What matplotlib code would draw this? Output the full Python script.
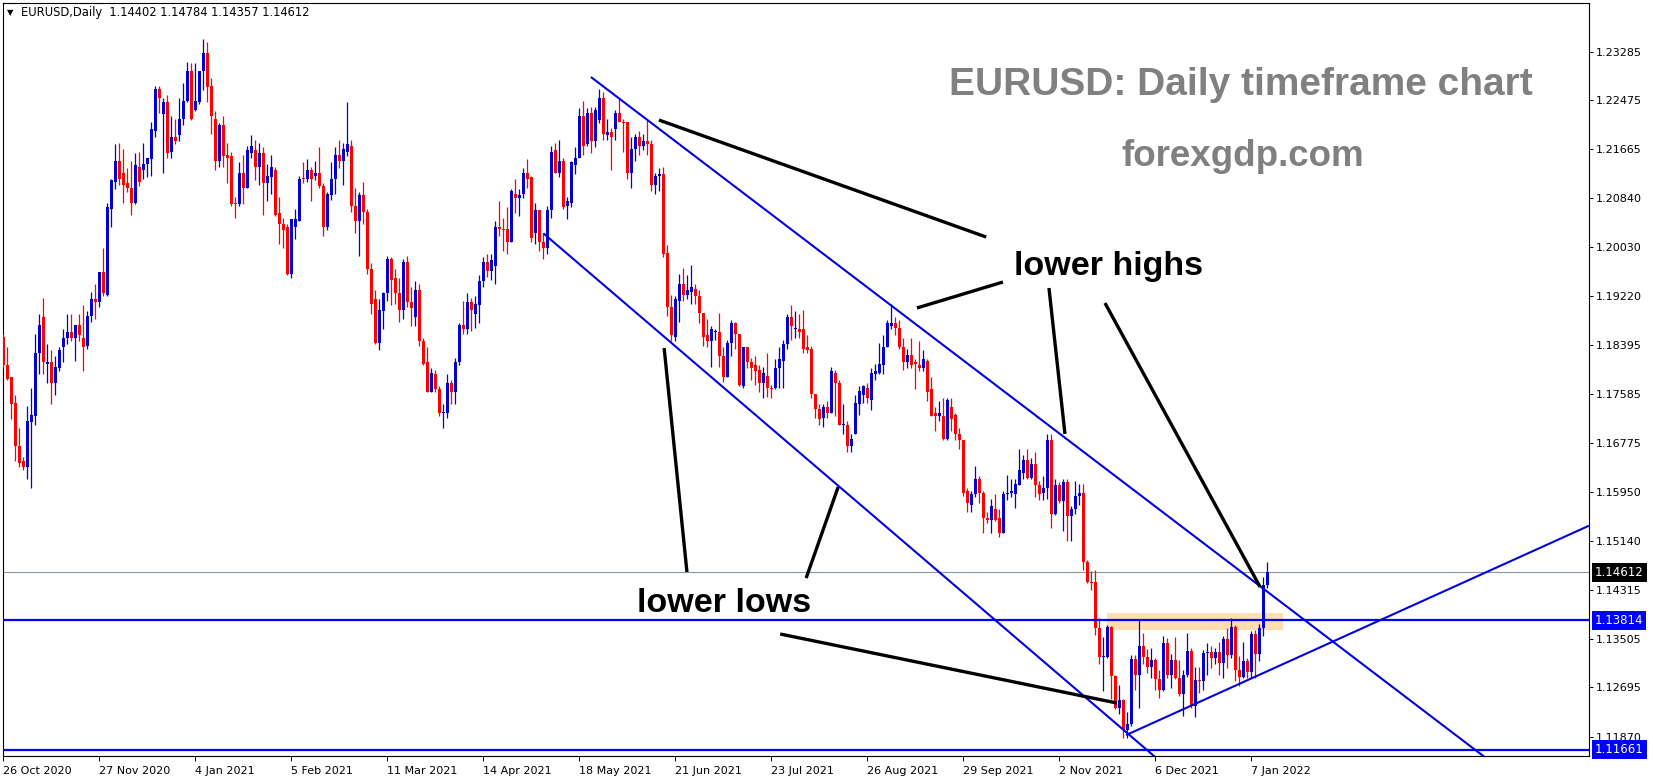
import matplotlib
matplotlib.use('Agg')
import matplotlib.pyplot as plt
import numpy as np
from matplotlib.patches import Rectangle

# ---------------- data (daily EURUSD candles, left to right) ----------------
opens = [
1.1854,1.1807,1.1786,1.1744,1.1672,1.1647,1.1637,1.1712,1.1722,1.1826,
1.1887,1.1809,1.1812,1.1776,1.1802,1.1836,1.1851,1.1861,1.1852,1.1874,
1.1852,1.1839,1.1889,1.1916,1.1911,1.1961,1.1924,1.2067,1.2112,1.2146,
1.2126,1.2109,1.2102,1.2077,1.2136,1.2132,1.2142,1.2149,1.2196,1.2267,
1.2224,1.2244,1.2161,1.2186,1.2189,1.2216,1.2246,1.2296,1.2231,1.2244,
1.2296,1.2326,1.2271,1.2216,1.2147,1.2206,1.2156,1.2154,1.2077,1.2074,
1.2127,1.2102,1.2159,1.2164,1.2136,1.2159,1.2109,1.2119,1.2131,1.2059,
1.2042,1.2036,1.1959,1.2037,1.2046,1.2117,1.2116,1.2131,1.2121,1.2127,
1.2104,1.2036,1.2089,1.2116,1.2156,1.2147,1.2162,1.2172,1.2071,1.2047,
1.2089,1.2062,1.1967,1.1917,1.1844,1.1897,1.1926,1.1984,1.1952,1.1927,
1.1899,1.1979,1.1912,1.1886,1.1932,1.1847,1.1812,1.1762,1.1792,1.1766,
1.1727,1.1727,1.1777,1.1761,1.1811,1.1874,1.1866,1.1912,1.1892,1.1907,
1.1946,1.1979,1.1964,1.1972,1.2037,1.2034,1.2034,1.2012,1.2092,1.2084,
1.2091,1.2126,1.2119,1.2026,1.2064,1.2012,1.2002,1.2064,1.2164,1.2126,
1.2147,1.2071,1.2077,1.2139,1.2151,1.2222,1.2174,1.2227,1.2179,1.2214,
1.2251,1.2189,1.2194,1.2199,1.2226,1.2212,1.2211,1.2126,1.2166,1.2186,
1.2171,1.2179,1.2174,1.2107,1.2121,1.2124,1.1994,1.1904,1.1854,1.1914,
1.1941,1.1924,1.1929,1.1934,1.1922,1.1894,1.1856,1.1847,1.1861,1.1861,
1.1821,1.1787,1.1844,1.1876,1.1859,1.1772,1.1836,1.1811,1.1807,1.1799,
1.1777,1.1789,1.1769,1.1769,1.1801,1.1814,1.1841,1.1886,1.1866,1.1866,
1.1866,1.1836,1.1834,1.1759,1.1734,1.1719,1.1736,1.1727,1.1794,1.1776,
1.1707,1.1707,1.1672,1.1692,1.1742,1.1756,1.1769,1.1749,1.1792,1.1794,
1.1806,1.1836,1.1871,1.1877,1.1869,1.1837,1.1812,1.1824,1.1812,1.1807,
1.1801,1.1814,1.1766,1.1726,1.1722,1.1722,1.1684,1.1737,1.1724,1.1692,
1.1681,1.1596,1.1574,1.1592,1.1617,1.1594,1.1552,1.1549,1.1567,1.1551,
1.1526,1.1591,1.1594,1.1592,1.1607,1.1627,1.1649,1.1619,1.1642,1.1607,
1.1594,1.1602,1.1682,1.1558,1.1607,1.1580,1.1611,1.1555,1.1567,1.1588,
1.1593,1.1479,1.1445,1.1445,1.1368,1.1320,1.1320,1.1370,1.1288,1.1236,
1.1249,1.1198,1.1208,1.1317,1.1291,1.1338,1.1320,1.1303,1.1315,1.1284,
1.1265,1.1343,1.1290,1.1316,1.1285,1.1259,1.1290,1.1330,1.1239,1.1282,
1.1280,1.1327,1.1328,1.1319,1.1328,1.1310,1.1350,1.1324,1.1370,1.1299,
1.1287,1.1313,1.1296,1.1359,1.1325,1.1368,1.14402]

highs = [
1.1859,1.1837,1.1787,1.1757,1.1702,1.1654,1.1739,1.1769,1.1859,1.1891,
1.1919,1.1842,1.1832,1.1822,1.1836,1.1867,1.1892,1.1891,1.1874,1.1891,
1.1906,1.1896,1.1929,1.1941,1.1962,1.2002,1.2076,1.2117,1.2174,1.2177,
1.2166,1.2134,1.2147,1.2159,1.2162,1.2176,1.2152,1.2212,1.2272,1.2272,
1.2252,1.2257,1.2221,1.2216,1.2251,1.2276,1.2311,1.2309,1.2309,1.2296,
1.2349,1.2344,1.2284,1.2229,1.2209,1.2222,1.2177,1.2162,1.2086,1.2144,
1.2157,1.2172,1.2189,1.2182,1.2176,1.2169,1.2142,1.2156,1.2136,1.2087,
1.2051,1.2042,1.2049,1.2066,1.2122,1.2144,1.2149,1.2136,1.2146,1.2169,
1.2109,1.2094,1.2144,1.2169,1.2181,1.2176,1.2244,1.2182,1.2101,1.2094,
1.2112,1.2066,1.1976,1.1931,1.1916,1.1929,1.1989,1.1987,1.1967,1.1951,
1.1984,1.1989,1.1936,1.1946,1.1941,1.1851,1.1837,1.1801,1.1799,1.1772,
1.1741,1.1791,1.1781,1.1819,1.1877,1.1914,1.1927,1.1919,1.1921,1.1956,
1.1987,1.1992,1.1992,1.2047,1.2079,1.2051,1.2069,1.2099,1.2117,1.2099,
1.2134,1.2149,1.2121,1.2076,1.2064,1.2026,1.2071,1.2171,1.2177,1.2181,
1.2152,1.2086,1.2147,1.2169,1.2234,1.2246,1.2234,1.2237,1.2236,1.2266,
1.2262,1.2216,1.2202,1.2231,1.2251,1.2216,1.2211,1.2186,1.2192,1.2197,
1.2191,1.2217,1.2181,1.2127,1.2134,1.2137,1.2006,1.1924,1.1922,1.1959,
1.1969,1.1956,1.1974,1.1942,1.1932,1.1894,1.1884,1.1872,1.1867,1.1894,
1.1836,1.1849,1.1881,1.1879,1.1859,1.1837,1.1836,1.1819,1.1822,1.1806,
1.1804,1.1827,1.1774,1.1817,1.1837,1.1849,1.1891,1.1907,1.1897,1.1892,
1.1899,1.1856,1.1839,1.1759,1.1742,1.1742,1.1747,1.1804,1.1799,1.1782,
1.1741,1.1714,1.1691,1.1756,1.1771,1.1774,1.1776,1.1802,1.1809,1.1844,
1.1856,1.1882,1.1909,1.1886,1.1882,1.1851,1.1834,1.1851,1.1816,1.1846,
1.1831,1.1816,1.1786,1.1736,1.1747,1.1752,1.1751,1.1752,1.1726,1.1702,
1.1681,1.1601,1.1596,1.1639,1.1621,1.1596,1.1562,1.1584,1.1592,1.1567,
1.1596,1.1624,1.1617,1.1616,1.1667,1.1657,1.1666,1.1652,1.1662,1.1614,
1.1621,1.1692,1.1692,1.1616,1.1612,1.1616,1.1617,1.1571,1.1613,1.1609,
1.1609,1.1482,1.1464,1.1465,1.1386,1.1353,1.1374,1.1372,1.1290,1.1274,
1.1250,1.1228,1.1324,1.1324,1.1383,1.1360,1.1334,1.1335,1.1318,1.1298,
1.1355,1.1352,1.1325,1.1354,1.1315,1.1298,1.1360,1.1335,1.1304,1.1304,
1.1332,1.1343,1.1339,1.1336,1.1345,1.1355,1.1369,1.1386,1.1374,1.1322,
1.1346,1.1318,1.1364,1.1365,1.1375,1.1454,1.14784]

lows = [
1.1802,1.1782,1.1717,1.1647,1.1637,1.1631,1.1617,1.1601,1.1707,1.1792,
1.1792,1.1777,1.1742,1.1756,1.1796,1.1812,1.1842,1.1847,1.1814,1.1847,
1.1797,1.1834,1.1879,1.1884,1.1904,1.1921,1.1922,1.2037,1.2099,1.2107,
1.2077,1.2094,1.2056,1.2074,1.2104,1.2116,1.2119,1.2122,1.2187,1.2226,
1.2127,1.2151,1.2152,1.2174,1.2179,1.2207,1.2244,1.2214,1.2229,1.2241,
1.2264,1.2244,1.2191,1.2131,1.2136,1.2137,1.2109,1.2072,1.2051,1.2072,
1.2074,1.2101,1.2151,1.2114,1.2106,1.2056,1.2079,1.2092,1.2054,1.2009,
1.2002,1.1956,1.1951,1.2017,1.2046,1.2109,1.2112,1.2079,1.2114,1.2101,
1.2021,1.2032,1.2081,1.2091,1.2134,1.2107,1.2154,1.2061,1.2026,1.1989,
1.2041,1.1959,1.1891,1.1842,1.1832,1.1866,1.1914,1.1907,1.1909,1.1879,
1.1884,1.1904,1.1871,1.1872,1.1839,1.1807,1.1761,1.1761,1.1761,1.1722,
1.1702,1.1719,1.1741,1.1742,1.1807,1.1859,1.1859,1.1864,1.1869,1.1876,
1.1937,1.1954,1.1949,1.1942,1.2021,1.1996,1.1992,1.2011,1.2059,1.2054,
1.2084,1.2101,1.2012,1.2009,1.1997,1.1984,1.1992,1.2051,1.2126,1.2119,
1.2066,1.2049,1.2069,1.2124,1.2151,1.2157,1.2172,1.2159,1.2169,1.2209,
1.2181,1.2182,1.2131,1.2181,1.2211,1.2162,1.2117,1.2102,1.2147,1.2157,
1.2164,1.2156,1.2097,1.2092,1.2097,1.1987,1.1889,1.1846,1.1846,1.1879,
1.1914,1.1916,1.1909,1.1909,1.1876,1.1839,1.1836,1.1804,1.1849,1.1804,
1.1779,1.1786,1.1821,1.1834,1.1772,1.1769,1.1802,1.1781,1.1774,1.1762,
1.1751,1.1754,1.1752,1.1767,1.1769,1.1769,1.1834,1.1849,1.1852,1.1852,
1.1827,1.1826,1.1752,1.1719,1.1707,1.1704,1.1719,1.1726,1.1721,1.1706,
1.1692,1.1662,1.1661,1.1691,1.1724,1.1744,1.1744,1.1732,1.1781,1.1791,
1.1792,1.1836,1.1866,1.1856,1.1834,1.1799,1.1802,1.1802,1.1767,1.1797,
1.1796,1.1747,1.1721,1.1697,1.1714,1.1682,1.1682,1.1696,1.1681,1.1667,
1.1589,1.1561,1.1561,1.1586,1.1577,1.1526,1.1544,1.1527,1.1547,1.1521,
1.1526,1.1581,1.1586,1.1569,1.1606,1.1616,1.1616,1.1616,1.1586,1.1582,
1.1581,1.1583,1.1535,1.1557,1.1576,1.1530,1.1513,1.1514,1.1559,1.1573,
1.1465,1.1443,1.1432,1.1357,1.1309,1.1264,1.1318,1.1250,1.1233,1.1226,
1.1186,1.1186,1.1205,1.1265,1.1235,1.1308,1.1293,1.1285,1.1265,1.1252,
1.1263,1.1285,1.1269,1.1283,1.1255,1.1222,1.1287,1.1235,1.1220,1.1261,
1.1265,1.1290,1.1302,1.1309,1.1290,1.1286,1.1302,1.1319,1.1280,1.1272,
1.1285,1.1285,1.1286,1.1285,1.1314,1.1356,1.14357]

closes = [
1.1806,1.1784,1.1742,1.1671,1.1644,1.1637,1.1714,1.1724,1.1826,1.1874,
1.1811,1.1812,1.1776,1.1804,1.1832,1.1851,1.1861,1.1851,1.1874,1.1857,
1.1837,1.1889,1.1916,1.1911,1.1961,1.1926,1.2069,1.2114,1.2146,1.2117,
1.2107,1.2101,1.2077,1.2139,1.2111,1.2142,1.2151,1.2199,1.2266,1.2252,
1.2244,1.2159,1.2186,1.2179,1.2216,1.2247,1.2296,1.2216,1.2247,1.2296,
1.2326,1.2269,1.2221,1.2147,1.2206,1.2154,1.2152,1.2074,1.2074,1.2127,
1.2102,1.2164,1.2171,1.2136,1.2159,1.2109,1.2121,1.2136,1.2057,1.2042,
1.2032,1.1959,1.2049,1.2049,1.2117,1.2116,1.2131,1.2117,1.2127,1.2104,
1.2037,1.2091,1.2117,1.2156,1.2147,1.2166,1.2174,1.2071,1.2047,1.2089,
1.2061,1.1967,1.1909,1.1844,1.1899,1.1927,1.1984,1.1949,1.1926,1.1899,
1.1979,1.1911,1.1902,1.1932,1.1846,1.1809,1.1762,1.1794,1.1766,1.1727,
1.1727,1.1777,1.1761,1.1811,1.1874,1.1866,1.1912,1.1899,1.1909,1.1947,
1.1979,1.1964,1.1981,1.2037,1.2034,1.2032,1.2012,1.2097,1.2084,1.2089,
1.2126,1.2117,1.2019,1.2064,1.2011,1.2002,1.2064,1.2162,1.2126,1.2147,
1.2069,1.2079,1.2144,1.2151,1.2222,1.2172,1.2227,1.2179,1.2231,1.2251,
1.2191,1.2194,1.2187,1.2226,1.2211,1.2209,1.2126,1.2166,1.2186,1.2171,
1.2179,1.2174,1.2107,1.2121,1.2124,1.1992,1.1904,1.1857,1.1917,1.1941,
1.1924,1.1931,1.1936,1.1922,1.1894,1.1854,1.1847,1.1866,1.1862,1.1821,
1.1787,1.1844,1.1877,1.1859,1.1774,1.1836,1.1811,1.1802,1.1796,1.1777,
1.1794,1.1769,1.1767,1.1802,1.1816,1.1842,1.1886,1.1871,1.1867,1.1861,
1.1834,1.1832,1.1759,1.1734,1.1717,1.1736,1.1727,1.1796,1.1776,1.1707,
1.1709,1.1672,1.1684,1.1744,1.1764,1.1771,1.1751,1.1794,1.1796,1.1809,
1.1837,1.1876,1.1876,1.1869,1.1836,1.1812,1.1824,1.1807,1.1809,1.1801,
1.1816,1.1762,1.1722,1.1722,1.1726,1.1684,1.1749,1.1717,1.1692,1.1681,
1.1594,1.1576,1.1591,1.1617,1.1594,1.1552,1.1549,1.1571,1.1549,1.1526,
1.1592,1.1594,1.1597,1.1609,1.1631,1.1649,1.1619,1.1642,1.1607,1.1592,
1.1601,1.1682,1.1558,1.1607,1.1580,1.1611,1.1555,1.1567,1.1588,1.1593,
1.1479,1.1445,1.1443,1.1368,1.1320,1.1322,1.1370,1.1288,1.1236,1.1249,
1.1198,1.1208,1.1317,1.1291,1.1338,1.1320,1.1303,1.1315,1.1284,1.1265,
1.1343,1.1290,1.1316,1.1285,1.1259,1.1290,1.1330,1.1239,1.1282,1.1280,
1.1327,1.1328,1.1319,1.1328,1.1310,1.1350,1.1324,1.1370,1.1299,1.1287,
1.1313,1.1296,1.1359,1.1325,1.1368,1.1440,1.14612]

price_ticks = [1.23285, 1.22475, 1.21665, 1.20840, 1.20030, 1.19220, 1.18395,
               1.17585, 1.16775, 1.15950, 1.15140, 1.14315, 1.13505, 1.12695, 1.11870]
date_tick_bars = [0, 24, 48, 72, 96, 120, 144, 168, 192, 216, 240, 264, 288, 312]
date_tick_labels = ['26 Oct 2020', '27 Nov 2020', '4 Jan 2021', '5 Feb 2021', '11 Mar 2021',
                    '14 Apr 2021', '18 May 2021', '21 Jun 2021', '23 Jul 2021', '26 Aug 2021',
                    '29 Sep 2021', '2 Nov 2021', '6 Dec 2021', '7 Jan 2022']

last_price = 1.14612
resistance = 1.13814
bottom_level = 1.11661
header_text = 'EURUSD,Daily  1.14402 1.14784 1.14357 1.14612'

# trend lines: (bar index, price) end points
upper_channel = ([146.9, 400.0], [1.22863, 1.10031])
lower_channel = ([135.0, 300.0], [1.20260, 1.10850])
rising_support = ([280.7, 396.4], [1.11903, 1.15390])
zone_bars = (275.9, 319.9)
zone_prices = (1.13652, 1.13935)
pointer_lines = [
    ((163.9, 1.22147), (245.7, 1.20198)),
    ((228.4, 1.19016), (249.9, 1.19449)),
    ((261.4, 1.19349), (265.4, 1.16917)),
    ((275.4, 1.19099), (314.2, 1.14368)),
    ((165.2, 1.18349), (170.9, 1.14618)),
    ((208.7, 1.16034), (200.7, 1.14518)),
    ((194.2, 1.13586), (278.4, 1.12436)),
]

# ---------------- figure ----------------
W, H = 1653, 780
fig = plt.figure(figsize=(W / 100, H / 100), dpi=100)
Lpx, Rpx, Tpx, Bpx = 2.5, 1589, 2.7, 756
ax = fig.add_axes([Lpx / W, 1 - Bpx / H, (Rpx - Lpx) / W, (Bpx - Tpx) / H])
ax.set_xlim(-0.2, 396.4)
ax.set_ylim(1.11554, 1.24101)

BLUE_C = '#0000D0'
RED_C = '#FF0000'
LINE_BLUE = '#0000E0'

o = np.array(opens); h = np.array(highs); l = np.array(lows); c = np.array(closes)
idx = np.arange(len(o))
cols = np.where(c >= o, BLUE_C, RED_C)
ax.vlines(idx, l, h, colors=cols, lw=0.9, zorder=3)
body_lo = np.minimum(o, c)
body_h = np.maximum(np.abs(c - o), 0.00017)
ax.bar(idx, body_h, bottom=body_lo, width=0.78, color=cols, lw=0, zorder=3)

# zone rectangle
ax.add_patch(Rectangle((zone_bars[0], zone_prices[0]), zone_bars[1] - zone_bars[0],
                       zone_prices[1] - zone_prices[0], fc='#FFDFB0', ec='none', zorder=1))

# horizontal levels
ax.axhline(last_price, color='#8A96A3', lw=0.8, zorder=2)
ax.axhline(resistance, color='#0000FF', lw=1.6, zorder=4)
ax.axhline(bottom_level, color='#0000FF', lw=1.6, zorder=4)

# trend lines
for xs, ys in (upper_channel, lower_channel, rising_support):
    ax.plot(xs, ys, color=LINE_BLUE, lw=1.5, zorder=4, solid_capstyle='butt')

for (x1, y1), (x2, y2) in pointer_lines:
    ax.plot([x1, x2], [y1, y2], color='black', lw=2.4, zorder=5, solid_capstyle='butt')

# axes styling
for s in ax.spines.values():
    s.set_color('black'); s.set_linewidth(0.8)
ax.yaxis.tick_right()
ax.set_yticks(price_ticks)
ax.set_yticklabels([f'{v:.5f}' for v in price_ticks])
ax.tick_params(axis='y', direction='out', length=3, width=0.7, pad=2, labelsize=8, colors='black')
ax.set_xticks(date_tick_bars)
ax.set_xticklabels(date_tick_labels, ha='left')
ax.tick_params(axis='x', direction='out', length=3.5, width=0.7, pad=3.5, labelsize=8, colors='black')

# price label boxes
for val, fc in ((last_price, 'black'), (resistance, '#0000FF'), (bottom_level, '#0000FF')):
    ax.annotate(f'{val:.5f}', xy=(1, val), xycoords=('axes fraction', 'data'),
                xytext=(4.3, 0), textcoords='offset points', ha='left', va='center',
                fontsize=8.5, color='white', annotation_clip=False, zorder=6,
                bbox=dict(boxstyle='square,pad=0.25', fc=fc, ec='none'))

# texts
def fx(px): return px / W
def fy(py): return 1 - py / H

fig.text(fx(7), fy(12.5), '\u25BC', fontsize=6, ha='left', va='center', color='black')
fig.text(fx(21), fy(12.5), header_text, fontsize=8.3, ha='left', va='center', color='black')
fig.text(fx(1241), fy(85), 'EURUSD: Daily timeframe chart', fontsize=28, fontweight='bold',
         family='Liberation Sans', color='#808080', ha='center', va='center')
fig.text(fx(1243), fy(156), 'forexgdp.com', fontsize=26.5, fontweight='bold',
         family='Liberation Sans', color='#808080', ha='center', va='center')
fig.text(fx(1108), fy(267), 'lower highs', fontsize=24.5, fontweight='bold',
         family='Liberation Sans', color='black', ha='center', va='center')
fig.text(fx(724), fy(603), 'lower lows', fontsize=24.5, fontweight='bold',
         family='Liberation Sans', color='black', ha='center', va='center')

fig.savefig('out.png', dpi=100, facecolor='white')
